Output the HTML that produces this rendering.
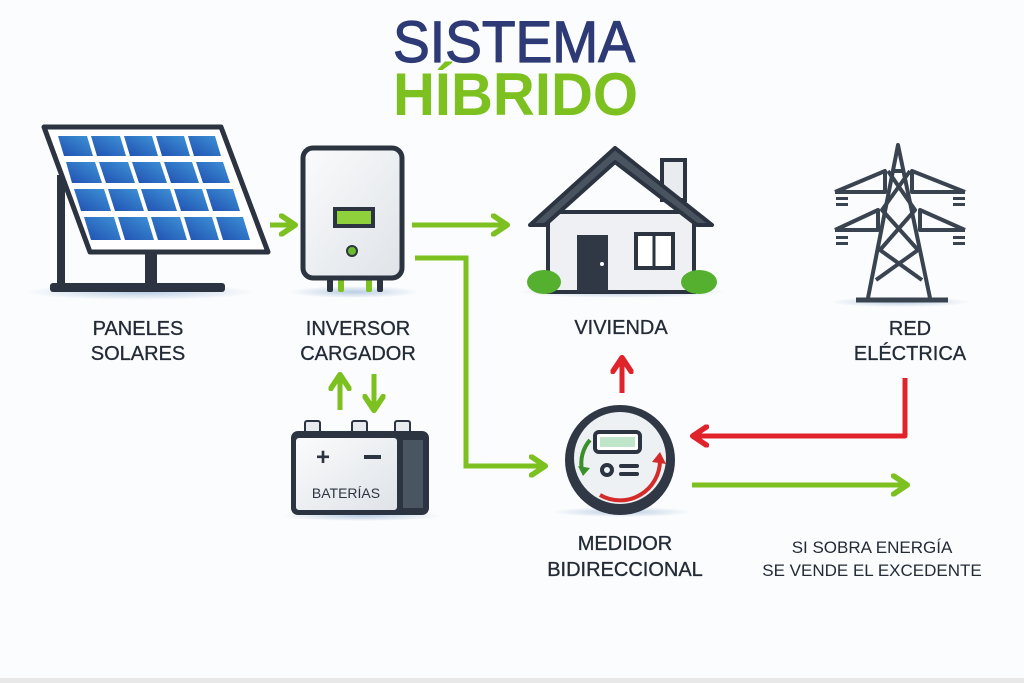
<!DOCTYPE html>
<html><head><meta charset="utf-8"><style>
html,body{margin:0;padding:0;background:#fbfcfd;}
svg{display:block;font-family:"Liberation Sans",sans-serif;}
</style></head><body>
<svg width="1024" height="683" viewBox="0 0 1024 683" xmlns="http://www.w3.org/2000/svg">
<defs>
<marker id="ag" viewBox="0 0 10 10" refX="6" refY="5" markerWidth="4.6" markerHeight="4.6" orient="auto"><path d="M1,1 L7,5 L1,9" fill="none" stroke="#7cc11f" stroke-width="2.4" stroke-linecap="round" stroke-linejoin="round"/></marker>
<marker id="ar" viewBox="0 0 10 10" refX="6" refY="5" markerWidth="4.6" markerHeight="4.6" orient="auto"><path d="M1,1 L7,5 L1,9" fill="none" stroke="#e0232a" stroke-width="2.4" stroke-linecap="round" stroke-linejoin="round"/></marker>
<linearGradient id="pv" x1="0" y1="1" x2="1" y2="0"><stop offset="0" stop-color="#1f4fb0"/><stop offset="1" stop-color="#3f94d8"/></linearGradient>
<linearGradient id="box" x1="0" y1="0" x2="1" y2="1"><stop offset="0" stop-color="#fafbfc"/><stop offset="1" stop-color="#dfe3e8"/></linearGradient>
<radialGradient id="sh"><stop offset="0" stop-color="#b9cde3"/><stop offset="1" stop-color="#b9cde3" stop-opacity="0"/></radialGradient>
</defs>
<rect width="1024" height="683" fill="#fbfcfd"/>
<rect x="0" y="678" width="1024" height="5" fill="#e8e8e8"/>

<!-- title -->
<text x="393" y="62" font-size="58" fill="#2e3a76" stroke="#2e3a76" stroke-width="1.2" textLength="242" lengthAdjust="spacingAndGlyphs">SISTEMA</text>
<text x="393" y="115" font-size="60" font-weight="bold" fill="#7cc11f" textLength="245" lengthAdjust="spacingAndGlyphs">HÍBRIDO</text>

<!-- solar panel -->
<ellipse cx="140" cy="292" rx="115" ry="8" fill="url(#sh)"/>
<rect x="57" y="175" width="8" height="112" fill="#2b3440"/>
<rect x="145" y="248" width="12" height="38" fill="#2b3440"/>
<rect x="50" y="283" width="175" height="9" rx="3" fill="#2b3440"/>
<polygon points="44,127 221,127 268,252 90,252" fill="#fff" stroke="#2b3440" stroke-width="5" stroke-linejoin="round"/>
<g fill="url(#pv)">
<polygon points="58,136 87,136 93,156 64,156"/><polygon points="91,136 120,136 126,156 97,156"/><polygon points="124,136 152,136 158,156 130,156"/><polygon points="156,136 184,136 190,156 162,156"/><polygon points="188,136 215,136 221,156 194,156"/>
<polygon points="66,162 95,162 102,183 72,183"/><polygon points="99,162 128,162 135,183 106,183"/><polygon points="132,162 160,162 167,183 139,183"/><polygon points="164,162 192,162 199,183 171,183"/><polygon points="196,162 223,162 230,183 203,183"/>
<polygon points="74,189 104,189 111,211 81,211"/><polygon points="108,189 137,189 144,211 115,211"/><polygon points="141,189 170,189 177,211 148,211"/><polygon points="174,189 202,189 209,211 181,211"/><polygon points="206,189 233,189 240,211 213,211"/>
<polygon points="84,217 114,217 121,240 91,240"/><polygon points="118,217 147,217 154,240 125,240"/><polygon points="151,217 180,217 187,240 158,240"/><polygon points="184,217 212,217 219,240 191,240"/><polygon points="216,217 243,217 250,240 223,240"/>
</g>
<line x1="270" y1="225" x2="293" y2="225" stroke="#7cc11f" stroke-width="5" marker-end="url(#ag)"/>

<!-- inverter -->
<ellipse cx="354" cy="292" rx="65" ry="6" fill="url(#sh)"/>
<rect x="327" y="272" width="6" height="20" rx="2" fill="#2b3440"/><rect x="338" y="272" width="6" height="20" rx="2" fill="#7cc11f"/>
<rect x="366" y="272" width="6" height="20" rx="2" fill="#7cc11f"/><rect x="377" y="272" width="6" height="20" rx="2" fill="#2b3440"/>
<rect x="303" y="148" width="99" height="130" rx="10" fill="url(#box)" stroke="#2b3440" stroke-width="5"/>
<rect x="333" y="207" width="42" height="21" fill="#2b3440"/><rect x="337" y="211" width="34" height="13" fill="#8fd13a"/>
<circle cx="352" cy="251" r="5" fill="#6cbb2e" stroke="#2b3440" stroke-width="2"/>
<line x1="412" y1="225" x2="505" y2="225" stroke="#7cc11f" stroke-width="5" marker-end="url(#ag)"/>
<polyline points="415,258 466,258 466,466 543,466" fill="none" stroke="#7cc11f" stroke-width="5" marker-end="url(#ag)"/>

<!-- house -->
<ellipse cx="622" cy="292" rx="105" ry="6" fill="url(#sh)"/>
<rect x="662" y="160" width="23" height="40" fill="#e9ecef" stroke="#2b3440" stroke-width="4"/>
<rect x="548" y="212" width="146" height="80" fill="#eef0f3" stroke="#2b3440" stroke-width="4"/>
<polygon points="530,225 615,148 712,225 697,225 615,162 545,225" fill="#4a5460" stroke="#2b3440" stroke-width="4" stroke-linejoin="round"/>
<rect x="577" y="235" width="31" height="57" fill="#2f3844"/>
<circle cx="602" cy="264" r="2" fill="#fff"/>
<rect x="636" y="234" width="37" height="34" fill="#fff" stroke="#2b3440" stroke-width="4"/>
<line x1="654" y1="234" x2="654" y2="268" stroke="#2b3440" stroke-width="3"/>
<ellipse cx="544" cy="282" rx="17" ry="12" fill="#56b030"/><ellipse cx="699" cy="282" rx="18" ry="12" fill="#56b030"/>

<!-- tower -->
<ellipse cx="900" cy="302" rx="70" ry="5" fill="url(#sh)"/>
<g stroke="#3a4450" stroke-width="4" fill="none" stroke-linejoin="round">
<polyline points="868,298 898,145 930,298"/>
<line x1="893" y1="171" x2="904" y2="171"/>
<polyline points="835,192 885,171 885,192 835,192"/><polyline points="965,192 912,171 912,192 965,192"/>
<polyline points="835,230 878,210 878,230 835,230"/><polyline points="965,230 920,210 920,230 965,230"/>
<path d="M888,171 L915,210 L880,250 L922,280 M910,171 L882,210 L918,250 L876,280"/>
<line x1="856" y1="300" x2="948" y2="300" stroke-width="5"/>
</g>
<g fill="#3a4450"><rect x="836" y="197" width="12" height="3"/><rect x="836" y="203" width="12" height="3"/><rect x="953" y="197" width="12" height="3"/><rect x="953" y="203" width="12" height="3"/>
<rect x="836" y="236" width="12" height="3"/><rect x="836" y="242" width="12" height="3"/><rect x="953" y="236" width="12" height="3"/><rect x="953" y="242" width="12" height="3"/></g>

<!-- labels -->
<g font-size="20" fill="#232b36" stroke="#232b36" stroke-width="0.3" text-anchor="middle">
<text x="138" y="335">PANELES</text><text x="138" y="360">SOLARES</text>
<text x="358" y="335">INVERSOR</text><text x="358" y="360">CARGADOR</text>
<text x="621" y="334">VIVIENDA</text>
<text x="910" y="335">RED</text><text x="910" y="360">ELÉCTRICA</text>
<text x="625" y="550">MEDIDOR</text><text x="625" y="576">BIDIRECCIONAL</text>
</g>
<g font-size="17" fill="#232b36" text-anchor="middle"><text x="872" y="553">SI SOBRA ENERGÍA</text><text x="872" y="576">SE VENDE EL EXCEDENTE</text></g>

<!-- battery arrows -->
<line x1="340" y1="410" x2="340" y2="377" stroke="#7cc11f" stroke-width="5" marker-end="url(#ag)"/>
<line x1="374" y1="374" x2="374" y2="408" stroke="#7cc11f" stroke-width="5" marker-end="url(#ag)"/>
<!-- battery -->
<ellipse cx="362" cy="516" rx="80" ry="5" fill="url(#sh)"/>
<rect x="305" y="421" width="15" height="12" rx="2" fill="#e8ebee" stroke="#2b3440" stroke-width="2"/>
<rect x="352" y="421" width="15" height="12" rx="2" fill="#e8ebee" stroke="#2b3440" stroke-width="2"/>
<rect x="395" y="421" width="15" height="12" rx="2" fill="#e8ebee" stroke="#2b3440" stroke-width="2"/>
<rect x="291" y="431" width="138" height="84" rx="7" fill="#2b3440"/>
<rect x="296" y="438" width="101" height="72" rx="3" fill="url(#box)"/>
<rect x="403" y="440" width="20" height="68" fill="#4a5562"/>
<text x="323" y="465" font-size="24" font-weight="bold" fill="#2b3440" text-anchor="middle">+</text>
<rect x="364" y="455" width="17" height="4" fill="#2b3440"/>
<text x="346" y="498" font-size="14" fill="#2b3440" text-anchor="middle">BATERÍAS</text>

<!-- meter -->
<line x1="622" y1="393" x2="622" y2="360" stroke="#e0232a" stroke-width="5" marker-end="url(#ar)"/>
<ellipse cx="622" cy="512" rx="70" ry="5" fill="url(#sh)"/>
<circle cx="620" cy="460" r="55" fill="#2f3844"/>
<circle cx="620" cy="458" r="46" fill="#eef1f4"/>
<rect x="595" y="432" width="45" height="20" rx="4" fill="#fff" stroke="#2b3440" stroke-width="4"/>
<rect x="600" y="437" width="35" height="10" fill="#bfe6c8"/>
<circle cx="607" cy="470" r="5" fill="none" stroke="#2b3440" stroke-width="4"/>
<rect x="619" y="464" width="20" height="4" rx="2" fill="#2b3440"/><rect x="619" y="472" width="20" height="4" rx="2" fill="#2b3440"/>
<path d="M590,440 A35,35 0 0 0 582,470" fill="none" stroke="#3a8f2a" stroke-width="4"/>
<path d="M578,466 L583,476 L590,468" fill="#3a8f2a"/>
<path d="M600,495 A40,40 0 0 0 660,460" fill="none" stroke="#d42a2a" stroke-width="4"/>
<path d="M652,462 L660,452 L666,464" fill="#d42a2a"/>
<polyline points="905,378 905,436 695,436" fill="none" stroke="#e0232a" stroke-width="5" stroke-linejoin="round" marker-end="url(#ar)"/>
<line x1="692" y1="485" x2="905" y2="485" stroke="#7cc11f" stroke-width="5" marker-end="url(#ag)"/>
</svg>
</body></html>
